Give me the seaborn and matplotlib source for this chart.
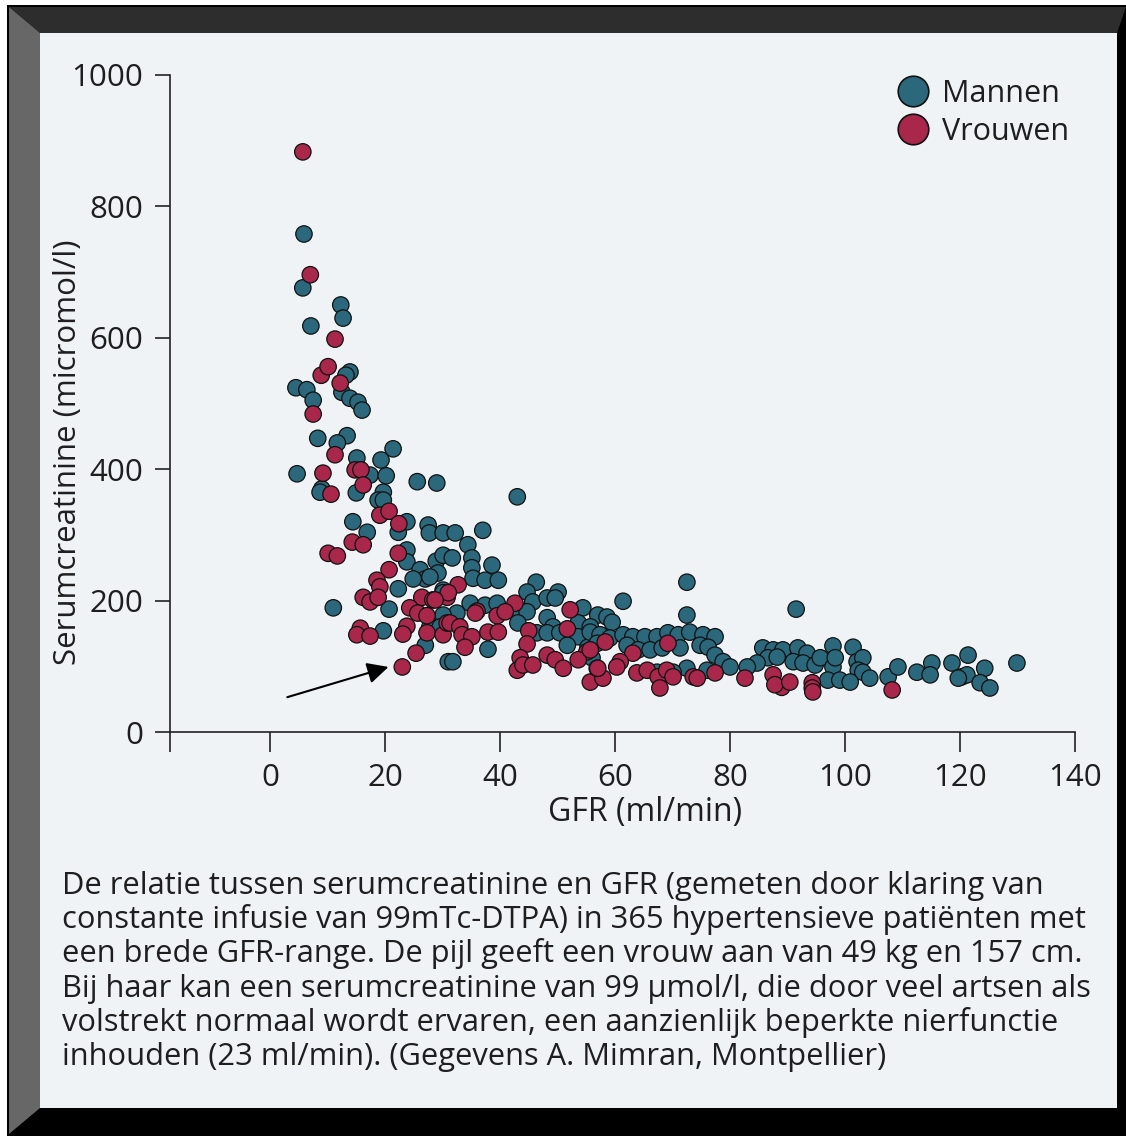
import matplotlib
matplotlib.use("Agg")
import matplotlib.pyplot as plt
from matplotlib.patches import Polygon
from matplotlib.lines import Line2D
import pandas as pd
import seaborn as sns

W, H = 1126, 1136

# (GFR ml/min, serumcreatinine micromol/l)
mannen = [
    (5.9, 758), (5.7, 676), (7.1, 618), (12.3, 650), (12.7, 630), (4.5, 524), (6.4, 521),
    (7.5, 505), (4.7, 393), (13.9, 548), (13.2, 543), (12.5, 517), (13.9, 508), (15.3, 502),
    (16.0, 490), (8.3, 447), (13.4, 451), (11.7, 440), (21.4, 431), (19.3, 414), (15.1, 417),
    (17.4, 391), (20.2, 390), (25.6, 381), (29.0, 379), (9.0, 370), (15.0, 364), (19.7, 365),
    (18.8, 353), (19.7, 353), (14.4, 320), (16.9, 304), (23.8, 320), (22.3, 304), (27.5, 315),
    (27.7, 303), (30.1, 303), (23.8, 277), (23.8, 259), (28.9, 260), (30.1, 269), (26.1, 247),
    (27.0, 233), (24.9, 233), (29.2, 242), (22.3, 218), (11.0, 189), (20.7, 187), (30.1, 216),
    (19.7, 154), (28.2, 160), (27.0, 132), (31.0, 107), (43.0, 358), (32.2, 303), (37.0, 307),
    (34.4, 285), (31.7, 265), (35.1, 265), (38.6, 254), (35.1, 250), (35.3, 234), (37.4, 231),
    (39.7, 231), (27.8, 236), (46.3, 228), (30.1, 212), (44.7, 213), (50.1, 213), (34.8, 196),
    (37.4, 193), (39.5, 196), (45.7, 198), (48.2, 204), (49.6, 204), (43.1, 186), (44.7, 183),
    (54.4, 189), (57.0, 178), (58.6, 175), (32.5, 181), (30.1, 178), (27.8, 160), (29.6, 160),
    (43.1, 166), (48.2, 174), (49.2, 160), (53.6, 166), (55.7, 160), (46.4, 151), (48.2, 151),
    (50.4, 151), (53.6, 145), (57.0, 145), (37.9, 126), (51.7, 132), (55.3, 129), (31.8, 107),
    (56.0, 113), (72.5, 228), (61.4, 199), (72.5, 178), (59.5, 167), (55.7, 152), (57.4, 148),
    (59.1, 143), (61.4, 148), (63.1, 145), (65.2, 145), (67.3, 145), (69.2, 151), (71.0, 148),
    (73.0, 152), (75.3, 148), (77.4, 145), (56.9, 135), (62.1, 132), (64.0, 125), (66.1, 125),
    (68.2, 128), (71.3, 128), (74.8, 132), (76.2, 129), (77.4, 117), (78.8, 107), (80.0, 99),
    (85.7, 128), (87.5, 125), (89.2, 125), (86.6, 113), (88.2, 114), (84.7, 105), (91.5, 187),
    (72.5, 97), (70.1, 91), (76.0, 94), (67.3, 91), (83.0, 99), (91.8, 128), (93.4, 120),
    (97.9, 131), (101.4, 129), (91.0, 107), (92.7, 105), (94.8, 102), (95.7, 113), (97.9, 99),
    (98.3, 113), (102.1, 107), (103.1, 113), (102.3, 94), (103.1, 91), (104.3, 82), (97.0, 79),
    (99.1, 79), (100.9, 76), (107.5, 84), (109.2, 99), (112.5, 91), (115.1, 105), (114.8, 87),
    (118.6, 105), (120.3, 84), (121.4, 117), (121.2, 87), (124.3, 97), (119.7, 82), (123.5, 75),
    (125.2, 67), (129.9, 105), (8.7, 365),
]

vrouwen = [
    (5.7, 883), (7.0, 696), (7.5, 484), (8.9, 543), (10.1, 556), (11.3, 598), (12.2, 531),
    (9.2, 394), (10.6, 362), (11.3, 422), (14.8, 399), (15.8, 399), (16.2, 376), (10.1, 272),
    (11.7, 268), (14.3, 289), (16.2, 285), (19.1, 330), (20.7, 336), (22.4, 317), (22.3, 272),
    (20.7, 247), (18.6, 231), (19.1, 221), (16.2, 205), (17.4, 198), (18.8, 205), (26.4, 205),
    (28.3, 201), (24.3, 189), (25.7, 181), (27.3, 177), (15.7, 158), (15.1, 148), (17.4, 146),
    (23.8, 161), (23.1, 149), (27.3, 151), (30.1, 148), (25.4, 120), (23.0, 99), (30.8, 166),
    (30.8, 205), (32.7, 224), (31.0, 212), (28.7, 201), (42.6, 196), (36.0, 184), (35.7, 181),
    (39.5, 177), (40.9, 183), (52.2, 186), (31.3, 166), (33.0, 160), (37.9, 152), (39.7, 152),
    (45.0, 154), (51.7, 157), (33.4, 148), (35.1, 145), (44.7, 134), (58.3, 137), (33.9, 129),
    (48.2, 117), (49.6, 110), (55.1, 122), (43.5, 113), (43.0, 94), (44.0, 102), (45.7, 102),
    (51.0, 97), (53.6, 110), (55.7, 76), (57.9, 82), (56.9, 97), (69.2, 135), (63.1, 120),
    (55.7, 125), (57.0, 97), (60.9, 107), (60.3, 99), (63.8, 90), (65.6, 94), (67.5, 84),
    (69.0, 94), (70.1, 84), (73.6, 84), (74.3, 82), (77.4, 90), (82.6, 82), (67.8, 67),
    (87.5, 87), (89.0, 68), (87.8, 72), (90.4, 76), (94.3, 75), (94.3, 67), (94.4, 61),
    (108.2, 64),
]

groepen = ["Mannen", "Vrouwen"]
kleuren = {"Mannen": "#2b687c", "Vrouwen": "#a8274a"}
x_ticks = [0, 20, 40, 60, 80, 100, 120, 140]
y_ticks = [0, 200, 400, 600, 800, 1000]
x_label = "GFR (ml/min)"
y_label = "Serumcreatinine (micromol/l)"
onderschrift = [
    "De relatie tussen serumcreatinine en GFR (gemeten door klaring van",
    "constante infusie van 99mTc-DTPA) in 365 hypertensieve patiënten met",
    "een brede GFR-range. De pijl geeft een vrouw aan van 49 kg en 157 cm.",
    "Bij haar kan een serumcreatinine van 99 µmol/l, die door veel artsen als",
    "volstrekt normaal wordt ervaren, een aanzienlijk beperkte nierfunctie",
    "inhouden (23 ml/min). (Gegevens A. Mimran, Montpellier)",
]
pijl_punt = (23.0, 99)

rows = [(g, c, "Mannen") for g, c in mannen] + [(g, c, "Vrouwen") for g, c in vrouwen]
df = pd.DataFrame(rows, columns=["GFR", "Creatinine", "Geslacht"])

sns.set_theme(style="white")
FONT = ["Open Sans", "DejaVu Sans"]
plt.rcParams["font.family"] = FONT
TXT = "#1e1e1e"
PANEL = "#eff3f6"

fig = plt.figure(figsize=(W / 100, H / 100), dpi=100, facecolor="white")


def fx(px):
    return px / W


def fy(py):
    return 1 - py / H


def poly(points, color):
    fig.patches.append(Polygon([(fx(x), fy(y)) for x, y in points], closed=True,
                               transform=fig.transFigure, facecolor=color,
                               edgecolor="none", zorder=-10))


# bevelled frame around the panel
poly([(7, 5), (W, 5), (W, H), (7, H)], "#000000")
poly([(9, 7), (W, 7), (1117, 33), (40, 33)], "#2d2d2d")
poly([(9, 7), (40, 33), (40, 1108), (9, 1134)], "#676767")
poly([(40, 33), (1117, 33), (1117, 1108), (40, 1108)], PANEL)

ax = fig.add_axes([fx(170), fy(732), fx(1075) - fx(170), fy(75) - fy(732)])
ax.set_facecolor("none")
ax.set_zorder(5)

sns.scatterplot(data=df, x="GFR", y="Creatinine", hue="Geslacht", hue_order=groepen,
                palette=kleuren, s=140, edgecolor="#111111", linewidth=0.9,
                legend=False, ax=ax, zorder=3, clip_on=False)

ax.set_xlim(-17.4, 140)
ax.set_ylim(0, 1000)
ax.set_xticks([-17.4] + x_ticks)
ax.set_xticklabels([""] + [str(v) for v in x_ticks])
ax.set_yticks(y_ticks)
ax.set_yticklabels([str(v) for v in y_ticks])
for side in ["top", "right"]:
    ax.spines[side].set_visible(False)
for side in ["left", "bottom"]:
    ax.spines[side].set_color("#222222")
    ax.spines[side].set_linewidth(1.2)
ax.tick_params(axis="x", bottom=True, direction="out", length=14.4, width=1.2,
               color="#222222", pad=8, labelsize=22.5, labelcolor=TXT)
ax.tick_params(axis="y", left=True, direction="out", length=10.8, width=1.2,
               color="#222222", pad=8.5, labelsize=22.5, labelcolor=TXT)
ax.set_xlabel("")
ax.set_ylabel("")

fig.text(fx(645), fy(813), x_label, ha="center", va="center", fontsize=23, color=TXT)
fig.text(fx(68), fy(452), y_label, ha="center", va="center", rotation=90,
         fontsize=22.5, color=TXT)

# arrow pointing at the highlighted patient
ax.annotate("", xy=(pijl_punt[0] - 2.4, pijl_punt[1]), xytext=(3.0, 53),
            arrowprops=dict(arrowstyle="-|>", color="black", lw=1.5,
                            mutation_scale=32, shrinkA=0, shrinkB=0), zorder=4)

handles = [Line2D([], [], marker="o", linestyle="none", markersize=22,
                  markerfacecolor=kleuren[g], markeredgecolor="#111111",
                  markeredgewidth=1.2, label=g) for g in groepen]
leg = ax.legend(handles=handles, loc="upper right", bbox_to_anchor=(1.007, 1.013),
                frameon=False, fontsize=22, handletextpad=0.45, labelspacing=0.27,
                borderaxespad=0, handlelength=1.0)
for t in leg.get_texts():
    t.set_color(TXT)

baselines = [894, 928, 962, 997, 1031, 1065]
for line, b in zip(onderschrift, baselines):
    fig.text(fx(62), fy(b), line, ha="left", va="baseline", fontsize=22.2, color=TXT)

fig.savefig("out.png", dpi=100, facecolor=fig.get_facecolor())
